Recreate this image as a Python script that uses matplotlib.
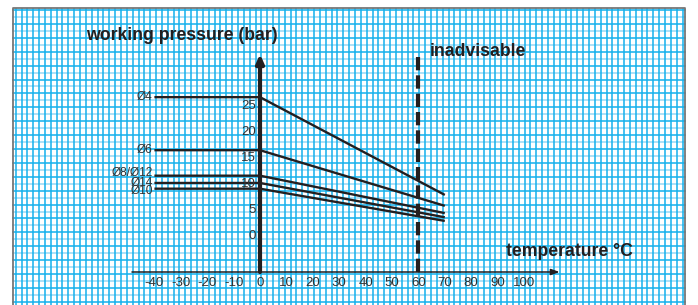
import numpy as np
import matplotlib
matplotlib.use("Agg")
import matplotlib.pyplot as plt

# ---- data ----
temps = [-40, 0, 70]
series_labels = ["Ø4", "Ø6", "Ø8/Ø12", "Ø14", "Ø10"]
p_d4 = [26.7, 26.7, 7.9]
p_d6 = [16.5, 16.5, 5.8]
p_d8_12 = [11.6, 11.6, 4.4]
p_d14 = [10.2, 10.2, 3.6]
p_d10 = [9.1, 9.1, 2.9]
series = [p_d4, p_d6, p_d8_12, p_d14, p_d10]
label_nudge_px = [0, 0, 3, 0, -2.5]   # vertical label offsets (pixels, up positive)
y_ticks = [0, 5, 10, 15, 20, 25]
x_ticks = [-40, -30, -20, -10, 0, 10, 20, 30, 40, 50, 60, 70, 80, 90, 100]
limit_temp = 60

W, H = 698, 305
fig = plt.figure(figsize=(W / 100, H / 100), dpi=100)
plt.rcParams['font.family'] = ['Liberation Sans', 'DejaVu Sans']

# background graph paper (pixel coordinates)
bg = fig.add_axes([0, 0, 1, 1])
bg.set_xlim(0, W)
bg.set_ylim(H, 0)
bg.axis('off')
left, right, top = 13, 685, 8
strong = '#14b0ec'
light = '#9edcf6'
xs = np.arange(15.7, right, 5.85)
for x in xs:
    bg.plot([x, x], [top, H], color=strong, lw=1.1, solid_capstyle='butt', zorder=1)
ys = np.arange(10, H, 6.95)
for i, y in enumerate(ys):
    bg.plot([left, right], [y, y], color=(strong if i % 2 == 0 else light),
            lw=(1.1 if i % 2 == 0 else 1.2), zorder=(1.5 if i % 2 == 0 else 0.5))
bg.plot([left, left, right, right], [H, top, top, H], color='#777777', lw=1.3, zorder=2)

# main chart axes, data coordinates
ax = fig.add_axes([0, 0, 1, 1])
ax.patch.set_alpha(0)
px_per_deg = 2.64
px_per_bar = 5.2
x0_px, y0_px = 260, 236
ax.set_xlim((0 - x0_px) / px_per_deg, (W - x0_px) / px_per_deg)
ax.set_ylim((y0_px - H) / px_per_bar, (y0_px - 0) / px_per_bar)
ax.axis('off')

xaxis_y = (y0_px - 272) / px_per_bar
ink = '#231f20'

# x axis with arrow
ax.annotate('', xy=(113.5, xaxis_y), xytext=(-48.5, xaxis_y),
            arrowprops=dict(arrowstyle='-|>,head_length=0.5,head_width=0.18',
                            color=ink, lw=1.1, shrinkA=0, shrinkB=0), zorder=5)
# y axis with arrow
ax.annotate('', xy=(0, 35.0), xytext=(0, xaxis_y),
            arrowprops=dict(arrowstyle='-|>,head_length=0.5,head_width=0.22',
                            color=ink, lw=3.0, shrinkA=0, shrinkB=0), zorder=5)

# inadvisable limit
ax.plot([limit_temp, limit_temp], [xaxis_y, 35.4], color=ink, lw=3.0,
        linestyle=(0, (3.2, 1.2)), dash_capstyle='butt', zorder=6)

# series
for lab, vals, nud in zip(series_labels, series, label_nudge_px):
    ax.plot(temps, vals, color=ink, lw=1.7, zorder=4, solid_capstyle='butt')
    ax.text(temps[0] - 0.6, vals[0] + nud / px_per_bar, lab, ha='right', va='center',
            fontsize=8.6, color='#333333', zorder=6)

# tick labels
for v in y_ticks:
    ax.text(-1.5, v, str(v), ha='right', va='center', fontsize=9.5, color='#333333', zorder=6)
for v in x_ticks:
    ax.text(v, (y0_px - 283) / px_per_bar, str(v), ha='center', va='center',
            fontsize=9.5, color='#333333', zorder=6)

# titles
ax.text((86 - x0_px) / px_per_deg, (y0_px - 35) / px_per_bar, 'working pressure (bar)',
        ha='left', va='center', fontsize=12.7, fontweight='bold', color=ink, zorder=6)
ax.text((430 - x0_px) / px_per_deg, (y0_px - 52) / px_per_bar, 'inadvisable',
        ha='left', va='center', fontsize=12.7, fontweight='bold', color=ink, zorder=6)
ax.text((506 - x0_px) / px_per_deg, (y0_px - 252) / px_per_bar, 'temperature °C',
        ha='left', va='center', fontsize=12.7, fontweight='bold', color=ink, zorder=6)

fig.savefig('out.png', dpi=100, facecolor='white')
